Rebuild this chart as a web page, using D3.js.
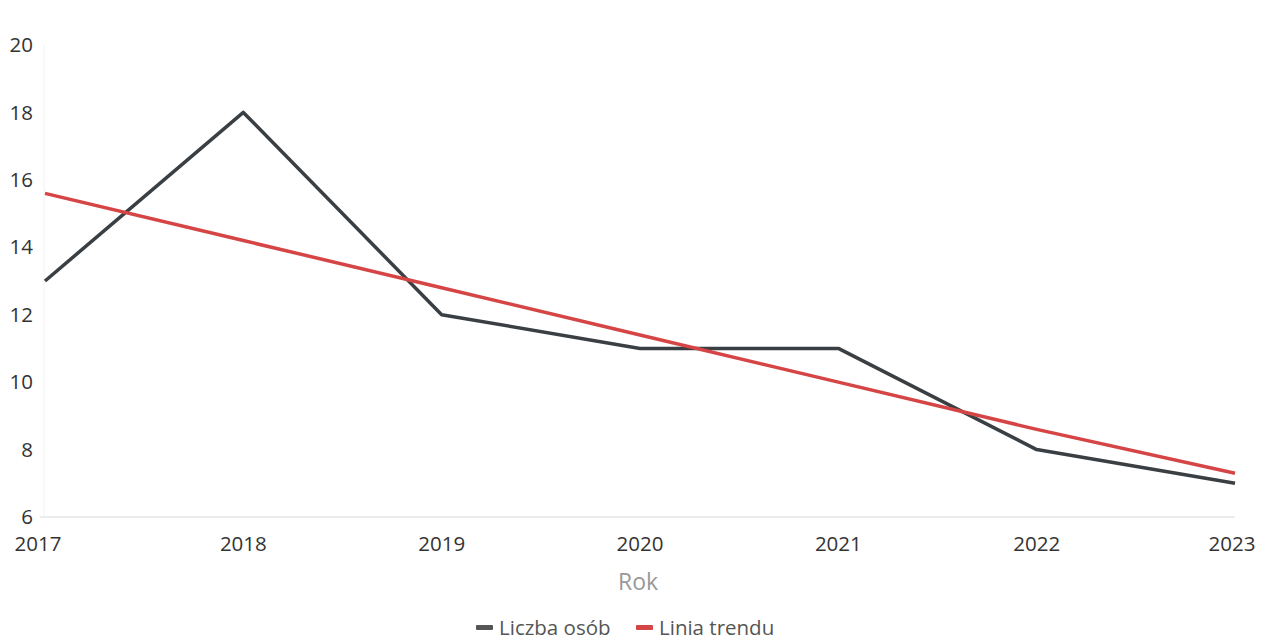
<!DOCTYPE html>
<html><head><meta charset="utf-8">
<script src="https://cdn.jsdelivr.net/npm/d3@7"></script>
<style>body{margin:0;background:#fff;}svg{display:block;font-family:"Open Sans","Noto Sans",sans-serif;}</style>
</head><body>
<svg id="c" width="1268" height="643"></svg>
<script>
const years = [2017, 2018, 2019, 2020, 2021, 2022, 2023];
const liczbaOsob = [13, 18, 12, 11, 11, 8, 7];
const liniaTrendu = [15.6, 14.2, 12.8, 11.4, 10.0, 8.6, 7.3];
const yTicks = [6, 8, 10, 12, 14, 16, 18, 20];
const seriesNames = ["Liczba osób", "Linia trendu"];
const seriesColors = ["#3a3f44", "#d64545"];

const svg = d3.select("#c");
const x = d3.scalePoint().domain(years).range([45, 1235]);
const y = d3.scaleLinear().domain([6, 20]).range([517, 45]);

// baseline & faint left axis
svg.append("line").attr("x1", 40).attr("x2", 1235).attr("y1", y(6)).attr("y2", y(6))
  .attr("stroke", "#e6e6e6").attr("stroke-width", 1.5);
svg.append("line").attr("x1", 44).attr("x2", 44).attr("y1", y(20)).attr("y2", y(6))
  .attr("stroke", "#f2f2f2").attr("stroke-width", 1);

// y labels
svg.append("g").selectAll("text").data(yTicks).join("text")
  .attr("x", 33).attr("y", d => y(d)).attr("dy", "0.35em")
  .attr("text-anchor", "end").attr("font-size", 20.5).attr("fill", "#333")
  .text(d => d);

// x labels
svg.append("g").selectAll("text").data(years).join("text")
  .attr("x", (d, i) => i === 0 ? 38 : (i === years.length - 1 ? 1232 : x(d)))
  .attr("y", 551)
  .attr("text-anchor", "middle").attr("font-size", 20.5).attr("fill", "#333")
  .text(d => d);

svg.append("text").attr("x", 638).attr("y", 590).attr("text-anchor", "middle")
  .attr("font-size", 23).attr("fill", "#999").text("Rok");

const line = d3.line().x((d, i) => x(years[i])).y(d => y(d));
svg.append("path").datum(liczbaOsob).attr("d", line).attr("fill", "none")
  .attr("stroke", seriesColors[0]).attr("stroke-width", 3.5).attr("stroke-linejoin", "round");
svg.append("path").datum(liniaTrendu).attr("d", line).attr("fill", "none")
  .attr("stroke", seriesColors[1]).attr("stroke-width", 3.5);

// legend
const lg = svg.append("g").attr("transform", "translate(476,628)");
const items = [{n: seriesNames[0], c: "#555", x: 0}, {n: seriesNames[1], c: seriesColors[1], x: 160}];
items.forEach(it => {
  lg.append("rect").attr("x", it.x).attr("y", -3).attr("width", 17).attr("height", 5)
    .attr("rx", 1).attr("fill", it.c);
  lg.append("text").attr("x", it.x + 23).attr("y", 0).attr("dy", "0.35em")
    .attr("font-size", 20.5).attr("fill", "#555").text(it.n);
});
</script>
</body></html>
